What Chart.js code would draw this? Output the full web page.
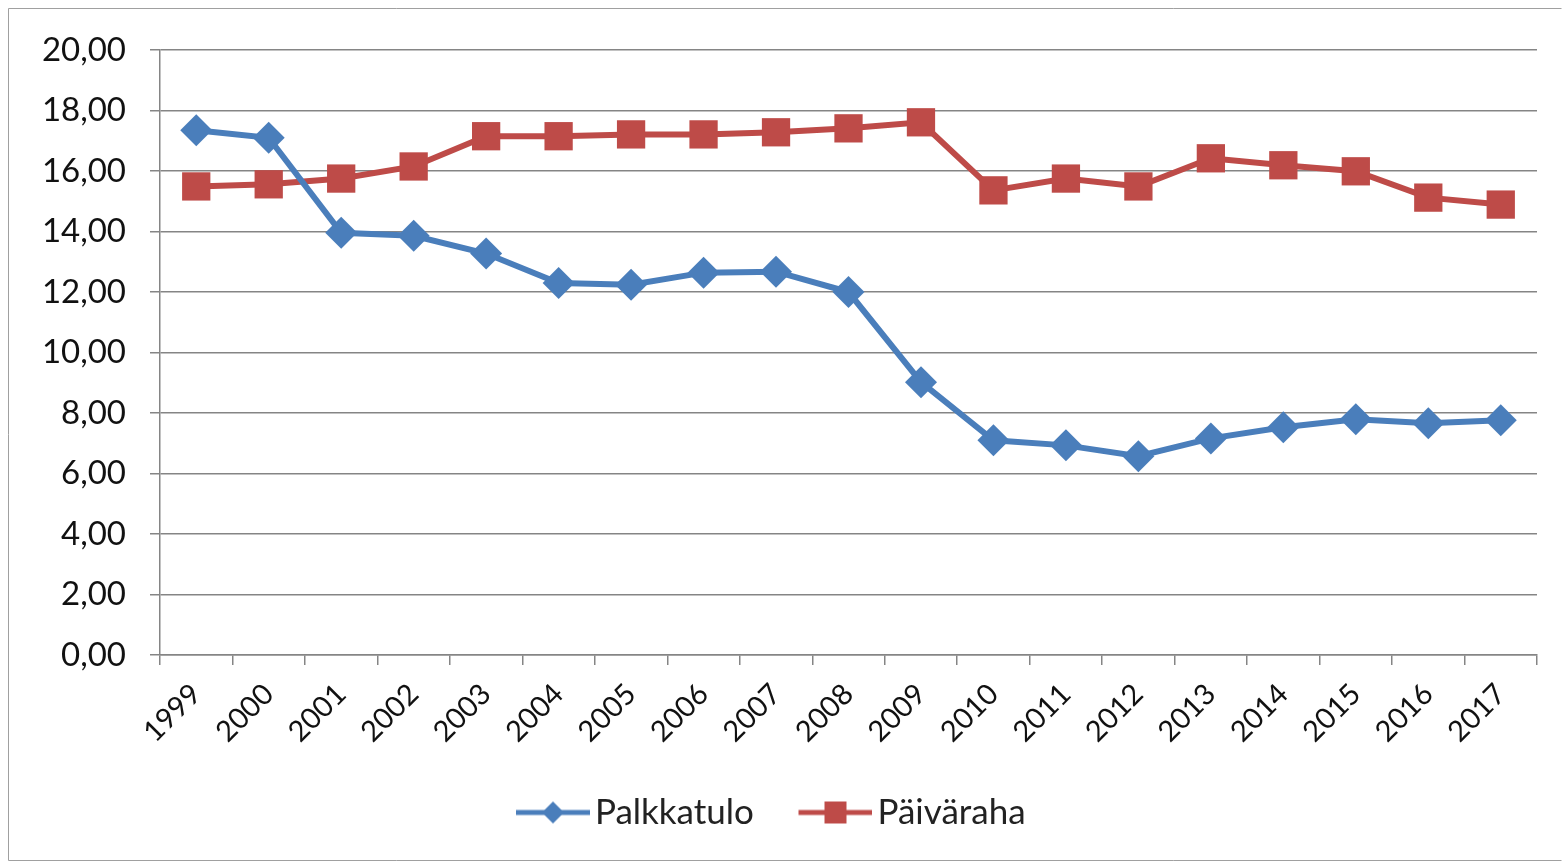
<!DOCTYPE html>
<html>
<head>
<meta charset="utf-8">
<script src="https://cdn.jsdelivr.net/npm/chart.js@4/dist/chart.umd.min.js"></script>
<style>
  html, body { margin: 0; padding: 0; background: #fff; }
  #wrap { width: 1562px; height: 865px; }
</style>
</head>
<body>
<div id="wrap"><canvas id="myChart" width="1562" height="865"></canvas></div>
<script>
const years = ["1999", "2000", "2001", "2002", "2003", "2004", "2005", "2006", "2007", "2008",
  "2009", "2010", "2011", "2012", "2013", "2014", "2015", "2016", "2017"];

const palkkatulo = [17.35, 17.10, 13.96, 13.86, 13.27, 12.30, 12.24, 12.64, 12.67, 12.00,
  9.02, 7.10, 6.93, 6.57, 7.16, 7.53, 7.79, 7.66, 7.76];

const paivaraha = [15.49, 15.56, 15.75, 16.15, 17.15, 17.15, 17.21, 17.21, 17.28, 17.41,
  17.61, 15.36, 15.75, 15.49, 16.42, 16.19, 15.99, 15.12, 14.89];

const blue = "#4a7ebb";
const red = "#be4b48";
const gridGray = "#858585";
const font = "Lato, 'Open Sans', sans-serif";

// legend swatch: line with marker on it, like the spreadsheet legend
// (left 17px left blank so the gap between legend items comes out wider)
function swatch(color, shape) {
  const c = document.createElement("canvas");
  c.width = 91; c.height = 26;
  const g = c.getContext("2d");
  const x0 = 17;
  g.strokeStyle = color;
  g.lineWidth = 5;
  g.beginPath(); g.moveTo(x0, 13); g.lineTo(x0 + 74, 13); g.stroke();
  g.fillStyle = color;
  g.beginPath();
  if (shape === "diamond") {
    g.moveTo(x0 + 37, 2); g.lineTo(x0 + 48, 13); g.lineTo(x0 + 37, 24); g.lineTo(x0 + 26, 13);
  } else {
    g.rect(x0 + 26, 2, 22, 22);
  }
  g.closePath(); g.fill();
  return c;
}

const frame = {
  id: "frame",
  beforeDraw(chart) {
    const ctx = chart.ctx;
    ctx.save();
    ctx.fillStyle = "#fff";
    ctx.fillRect(0, 0, chart.width, chart.height);
    ctx.strokeStyle = "#a0a0a0";
    ctx.lineWidth = 1;
    ctx.beginPath();
    ctx.moveTo(8.5, 860.5); ctx.lineTo(8.5, 8.5); ctx.lineTo(1561.5, 8.5);
    ctx.moveTo(8.5, 860.5); ctx.lineTo(1561.5, 860.5);
    ctx.stroke();
    ctx.restore();
  }
};

const data = {
  labels: years,
  datasets: [
    {
      label: "Palkkatulo",
      data: palkkatulo,
      borderColor: blue,
      backgroundColor: blue,
      borderWidth: 6,
      pointStyle: "rectRot",
      pointRadius: 16,
      pointBorderWidth: 0,
      tension: 0
    },
    {
      label: "Päiväraha",
      data: paivaraha,
      borderColor: red,
      backgroundColor: red,
      borderWidth: 6,
      pointStyle: "rect",
      pointRadius: 20,
      pointBorderWidth: 0,
      tension: 0
    }
  ]
};

const swatches = [swatch(blue, "diamond"), swatch(red, "square")];

const config = {
  type: "line",
  data: data,
  options: {
    responsive: false,
    animation: false,
    layout: { padding: { left: 0, right: 25, top: 50, bottom: 25 } },
    plugins: {
      tooltip: { enabled: false },
      legend: {
        position: "bottom",
        labels: {
          usePointStyle: true,
          pointStyleWidth: 66,
          padding: 40,
          color: "#222",
          font: { family: font, size: 35 },
          generateLabels(chart) {
            return chart.data.datasets.map((ds, i) => ({
              text: ds.label,
              pointStyle: swatches[i],
              fillStyle: ds.borderColor,
              strokeStyle: ds.borderColor,
              lineWidth: 0,
              hidden: false,
              datasetIndex: i,
              fontColor: "#222"
            }));
          }
        }
      }
    },
    scales: {
      x: {
        offset: true,
        grid: {
          offset: true,
          drawOnChartArea: false,
          drawTicks: true,
          tickLength: 10,
          color: gridGray,
          lineWidth: 1.5
        },
        border: { color: gridGray, width: 1.5 },
        ticks: {
          autoSkip: false,
          maxRotation: 45,
          minRotation: 45,
          padding: 12,
          color: "#111",
          font: { family: font, size: 29 }
        },
        afterFit(scale) { scale.height = 100; }
      },
      y: {
        min: 0,
        max: 20,
        grid: {
          color: gridGray,
          lineWidth: 1.5,
          tickLength: 10
        },
        border: { color: gridGray, width: 1.5 },
        ticks: {
          stepSize: 2,
          padding: 24,
          color: "#111",
          font: { family: font, size: 33 },
          callback: (v) => v.toFixed(2).replace(".", ",")
        },
        afterFit(scale) { scale.width = 160; }
      }
    }
  },
  plugins: [frame]
};

const ctx = document.getElementById("myChart").getContext("2d");
new Chart(ctx, config);
</script>
</body>
</html>
